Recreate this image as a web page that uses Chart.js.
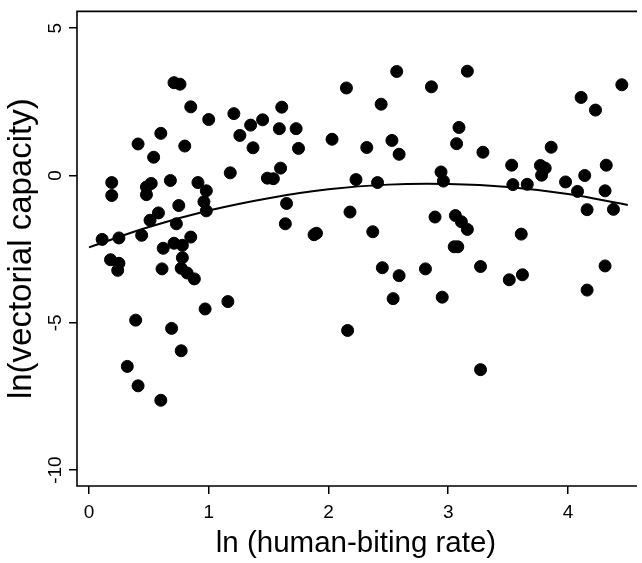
<!DOCTYPE html>
<html lang="en">
<head>
  <meta charset="UTF-8">
  <title>Vectorial capacity vs human-biting rate</title>
  <style>
    html, body { margin: 0; padding: 0; background: #fff; }
    #grafico { display: block; }
  </style>
  <script src="https://cdn.jsdelivr.net/npm/chart.js"></script>
</head>
<body>
<canvas id="grafico" width="642" height="563"></canvas>
<script>
  // ln(human-biting rate) of each site
  const biteRate = [
    0.71, 0.76, 0.85, 1.00, 1.21, 1.35, 1.26, 1.37, 0.60, 0.41,
    0.80, 0.54, 1.18, 0.19, 0.19, 0.48, 0.52, 0.48, 0.68, 0.91,
    0.98, 0.96, 0.98, 0.75, 0.58, 0.51, 0.73, 0.11, 0.25, 0.44,
    0.85, 0.62, 0.71, 0.78, 0.18, 0.25, 0.24, 0.61, 0.78, 0.77,
    0.82, 0.88, 1.16, 0.97, 0.39, 0.69, 0.77, 0.32, 0.41, 0.60,
    2.57, 2.15, 2.86, 2.44, 1.61, 1.45, 1.59, 1.73, 1.75, 2.03,
    2.32, 2.53, 2.59, 1.60, 1.49, 1.54, 2.23, 2.41, 2.94, 2.96,
    1.65, 2.18, 1.64, 1.88, 1.90, 2.37, 2.89, 2.45, 2.59, 2.81,
    2.95, 2.54, 2.16, 3.16, 4.45, 4.11, 4.23, 3.09, 3.07, 3.29,
    3.86, 3.53, 3.77, 3.81, 3.78, 4.32, 3.54, 3.66, 3.98, 4.14,
    4.08, 4.31, 4.16, 4.38, 3.06, 3.11, 3.16, 3.61, 3.05, 3.08,
    3.27, 3.51, 3.62, 4.31, 4.16, 3.27
  ];
  // ln(vectorial capacity) of each site
  const capacity = [
    3.15, 3.10, 2.33, 1.90, 2.10, 1.71, 1.36, 0.94, 1.43, 1.07,
    1.00, 0.62, 0.09, -0.24, -0.68, -0.39, -0.27, -0.65, -0.17, -0.24,
    -0.52, -0.89, -1.20, -1.02, -1.27, -1.52, -1.64, -2.17, -2.12, -2.03,
    -2.09, -2.47, -2.30, -2.37, -2.86, -2.98, -3.22, -3.17, -2.79, -3.15,
    -3.31, -3.51, -4.28, -4.53, -4.91, -5.19, -5.95, -6.48, -7.14, -7.63,
    3.53, 2.97, 3.01, 2.42, 2.32, 1.89, 1.59, 1.59, 0.92, 1.23,
    0.95, 1.19, 0.72, 0.25, -0.09, -0.11, -0.14, -0.24, 0.12, -0.19,
    -0.95, -1.24, -1.64, -2.01, -1.96, -1.91, -1.41, -3.13, -3.40, -3.17,
    -4.13, -4.18, -5.26, 3.54, 3.08, 2.65, 2.22, 1.63, 1.08, 0.79,
    0.96, 0.35, 0.34, 0.25, 0.01, 0.35, -0.31, -0.30, -0.22, 0.00,
    -0.54, -0.52, -1.16, -1.15, -1.36, -1.57, -1.83, -1.99, -2.42, -2.42,
    -3.09, -3.54, -3.37, -3.07, -3.89, -6.59
  ];

  // fitted curve
  const curveX = [0.0, 0.5, 1.0, 1.5, 2.0, 2.5, 3.0, 3.5, 4.0, 4.5];
  const curveY = [-2.44, -1.75, -1.19, -0.77, -0.47, -0.31, -0.29, -0.39, -0.63, -1.0];

  const xTicks = [0, 1, 2, 3, 4];
  const yTicks = [-10, -5, 0, 5];

  const points = biteRate.map((x, i) => ({ x: x, y: capacity[i] }));
  const curve = curveX.map((x, i) => ({ x: x, y: curveY[i] }));

  // frame on the left, top and bottom of the plot
  const frame = {
    id: 'frame',
    afterDraw(chart) {
      const a = chart.chartArea;
      const c = chart.ctx;
      c.save();
      c.strokeStyle = '#000';
      c.lineWidth = 1.6;
      c.beginPath();
      c.moveTo(a.right + 2, a.top);
      c.lineTo(a.left, a.top);
      c.lineTo(a.left, a.bottom);
      c.lineTo(a.right + 2, a.bottom);
      c.stroke();
      c.restore();
    }
  };

  const ctx = document.getElementById('grafico').getContext('2d');
  new Chart(ctx, {
    type: 'scatter',
    data: {
      datasets: [{
        data: points,
        backgroundColor: '#000',
        borderColor: '#000',
        pointRadius: 6,
        pointHoverRadius: 6,
        order: 2
      }, {
        type: 'line',
        data: curve,
        borderColor: '#000',
        borderWidth: 2,
        pointRadius: 0,
        fill: false,
        tension: 0.4,
        order: 1
      }]
    },
    options: {
      responsive: false,
      animation: false,
      events: [],
      layout: { padding: { top: 4, right: 0, left: 0, bottom: 0 } },
      plugins: {
        legend: { display: false },
        tooltip: { enabled: false }
      },
      scales: {
        x: {
          type: 'linear',
          min: -0.1,
          max: 4.56,
          afterFit(s) { s.height = 77; },
          afterBuildTicks(s) { s.ticks = xTicks.map(v => ({ value: v })); },
          border: { display: false },
          grid: { drawOnChartArea: false, drawTicks: true, tickLength: 8, color: '#000', lineWidth: 1.5 },
          ticks: {
            color: '#000',
            padding: 7,
            font: { family: 'Liberation Sans', size: 19 }
          },
          title: {
            display: true,
            text: 'ln (human-biting rate)',
            color: '#000',
            padding: { top: 0, bottom: 1 },
            font: { family: 'Liberation Sans', size: 29.5 }
          }
        },
        y: {
          type: 'linear',
          min: -10.54,
          max: 5.57,
          afterFit(s) { s.width = 77; },
          afterBuildTicks(s) { s.ticks = yTicks.map(v => ({ value: v })); },
          border: { display: false },
          grid: { drawOnChartArea: false, drawTicks: true, tickLength: 8, color: '#000', lineWidth: 1.5 },
          ticks: {
            color: '#000',
            padding: 0,
            crossAlign: 'center',
            minRotation: 90,
            maxRotation: 90,
            font: { family: 'Liberation Sans', size: 19 }
          },
          title: {
            display: true,
            text: 'ln(vectorial capacity)',
            color: '#000',
            padding: { top: 2, bottom: 0 },
            font: { family: 'Liberation Sans', size: 33 }
          }
        }
      }
    },
    plugins: [frame]
  });
</script>
</body>
</html>
